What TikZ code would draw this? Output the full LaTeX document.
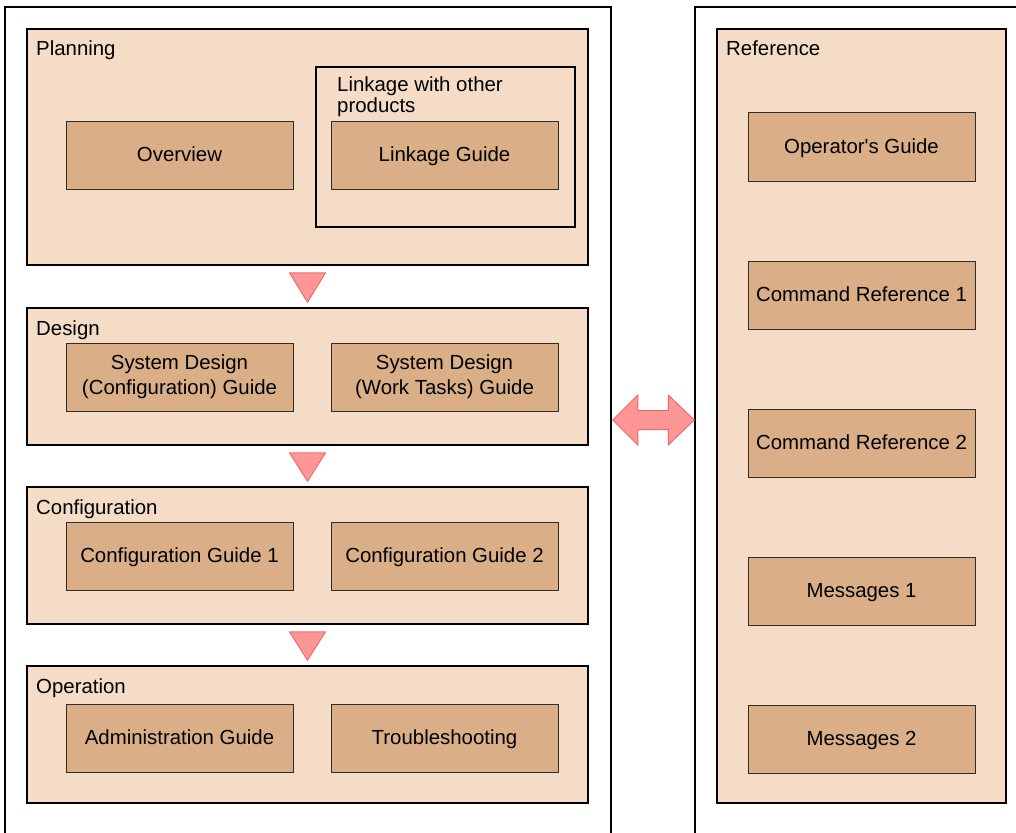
\documentclass[tikz,border=0pt]{standalone}
\usepackage{fontspec}
\setmainfont{Liberation Sans}
\usetikzlibrary{calc}
\definecolor{panelfill}{RGB}{244,220,198}
\definecolor{bookfill}{RGB}{218,175,136}
\definecolor{bookline}{RGB}{50,44,40}
\definecolor{flowfill}{RGB}{255,150,150}
\definecolor{flowline}{RGB}{236,108,108}
\begin{document}
\begin{tikzpicture}[x=1pt, y=-1pt,
  font=\fontsize{20.4}{25}\selectfont,
  outerframe/.style={draw=black, line width=1.5pt, inner sep=0pt},
  panel/.style={draw=black, line width=1.5pt, fill=panelfill, inner sep=0pt,
    minimum width=561pt, minimum height=137pt},
  book/.style={draw=bookline, line width=1pt, fill=bookfill, inner sep=0pt,
    minimum width=227pt, minimum height=68pt, align=center},
  onebook/.style={book, text height=16pt, text depth=4pt},
  heading/.style={anchor=base west, inner sep=0pt},
  flow/.style={fill=flowfill, draw=flowline, line width=1pt}]

\useasboundingbox (0,0) rectangle (1016,832);
\clip (0,0) rectangle (1016,832);

% outer frames (both run past the lower edge)
\node[outerframe, minimum width=606pt, minimum height=843pt] (leftframe) at (308,428.5) {};
\node[outerframe, minimum width=335pt, minimum height=843pt] (rightframe) at (862.5,428.5) {};

% phase panels
\node[panel, minimum height=236pt] (planning) at (307.5,147) {};
\node[panel] (design) at (307.5,376.5) {};
\node[panel] (config) at (307.5,555.5) {};
\node[panel] (operation) at (307.5,734.5) {};
\node[panel, minimum width=289pt, minimum height=774pt] (reference) at (861.5,416) {};

% panel headings
\node[heading] (planninglbl) at (36,56) {Planning};
\node[heading] (designlbl) at (36,335) {Design};
\node[heading] (configlbl) at (36,514) {Configuration};
\node[heading] (operationlbl) at (36,693) {Operation};
\node[heading] (referencelbl) at (726,56) {Reference};

% linkage group
\node[draw=black, line width=1.5pt, inner sep=0pt, minimum width=259pt, minimum height=160pt] (linkframe) at (445.5,147) {};
\node[heading] (linklbla) at (337,92) {Linkage with other};
\node[heading] (linklblb) at (337,112.5) {products};

% manuals
\node[onebook] (overview) at (179.5,155) {Overview};
\node[onebook] (linkguide) at (444.5,155) {Linkage Guide};
\node[book] (sdconf) at (179.5,377) {System Design\\(Configuration) Guide};
\node[book] (sdwork) at (444.5,377) {System Design\\(Work Tasks) Guide};
\node[onebook] (cfg1) at (179.5,556) {Configuration Guide 1};
\node[onebook] (cfg2) at (444.5,556) {Configuration Guide 2};
\node[onebook] (admin) at (179.5,738) {Administration Guide};
\node[onebook] (trouble) at (444.5,738) {Troubleshooting};

\node[onebook] (opguide) at (861.5,147) {Operator\textquotesingle s Guide};
\node[onebook] (cmdref1) at (861.5,295) {Command Reference 1};
\node[onebook] (cmdref2) at (861.5,443) {Command Reference 2};
\node[onebook] (msg1) at (861.5,591) {Messages 1};
\node[onebook] (msg2) at (861.5,739) {Messages 2};

% flow markers between phases
\foreach \a/\b in {planning/design, design/config, config/operation}
  \filldraw[flow] ($(\a.south)+(-18,7)$) -- ($(\a.south)+(18,7)$)
    -- ($(\b.north)+(0,-5)$) -- cycle;

% two-way arrow between the frames
\coordinate (tipL) at (leftframe.east |- 0,420);
\coordinate (tipR) at (rightframe.west |- 0,420);
\filldraw[flow, line join=miter]
  ($(tipL)+(1,0)$) -- ($(tipL)+(26,-25)$) -- ($(tipL)+(26,-9.5)$)
  -- ($(tipR)+(-26,-9.5)$) -- ($(tipR)+(-26,-25)$) -- (tipR)
  -- ($(tipR)+(-26,25)$) -- ($(tipR)+(-26,9.5)$)
  -- ($(tipL)+(26,9.5)$) -- ($(tipL)+(26,25)$) -- cycle;
\end{tikzpicture}
\end{document}
